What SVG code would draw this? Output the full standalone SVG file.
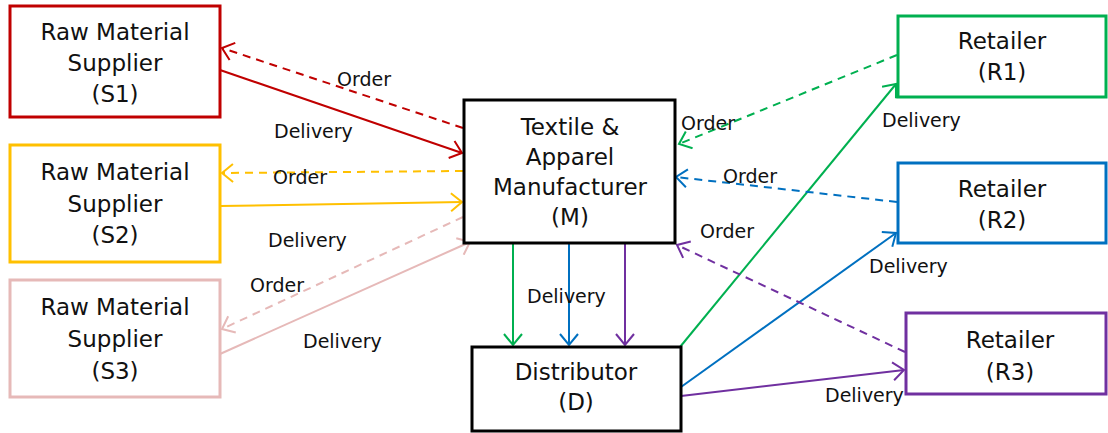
<svg xmlns="http://www.w3.org/2000/svg" width="1108" height="433" viewBox="0 0 1108 433">
<style>
.box{fill:#fff;stroke-width:3}
.t{font-family:"DejaVu Sans",Verdana,sans-serif;font-size:23px;fill:#111;text-anchor:middle}
.l{font-family:"DejaVu Sans",Verdana,sans-serif;font-size:19px;fill:#111}
.c{fill:none;stroke-width:2}
.d{stroke-dasharray:8,6}
</style>
<defs>
<marker id="aR" markerWidth="14" markerHeight="20" refX="12" refY="10" orient="auto" markerUnits="userSpaceOnUse"><path d="M1,1 L12,10 L1,19" fill="none" stroke="#C00000" stroke-width="2"/></marker>
<marker id="aY" markerWidth="14" markerHeight="20" refX="12" refY="10" orient="auto" markerUnits="userSpaceOnUse"><path d="M1,1 L12,10 L1,19" fill="none" stroke="#FFC000" stroke-width="2"/></marker>
<marker id="aP" markerWidth="14" markerHeight="20" refX="12" refY="10" orient="auto" markerUnits="userSpaceOnUse"><path d="M1,1 L12,10 L1,19" fill="none" stroke="#E6B9B8" stroke-width="2"/></marker>
<marker id="aG" markerWidth="14" markerHeight="20" refX="12" refY="10" orient="auto" markerUnits="userSpaceOnUse"><path d="M1,1 L12,10 L1,19" fill="none" stroke="#00B050" stroke-width="2"/></marker>
<marker id="aB" markerWidth="14" markerHeight="20" refX="12" refY="10" orient="auto" markerUnits="userSpaceOnUse"><path d="M1,1 L12,10 L1,19" fill="none" stroke="#0070C0" stroke-width="2"/></marker>
<marker id="aV" markerWidth="14" markerHeight="20" refX="12" refY="10" orient="auto" markerUnits="userSpaceOnUse"><path d="M1,1 L12,10 L1,19" fill="none" stroke="#7030A0" stroke-width="2"/></marker>
</defs>
<rect width="1108" height="433" fill="#fff"/>

<g id="connectors">
<line class="c d" x1="463" y1="128" x2="222" y2="48" stroke="#C00000" marker-end="url(#aR)"/>
<line class="c" x1="220" y1="70" x2="462" y2="153" stroke="#C00000" marker-end="url(#aR)"/>
<line class="c d" x1="463" y1="171" x2="222" y2="173" stroke="#FFC000" marker-end="url(#aY)"/>
<line class="c" x1="220" y1="206" x2="462" y2="202" stroke="#FFC000" marker-end="url(#aY)"/>
<line class="c d" x1="463" y1="217" x2="222" y2="329" stroke="#E6B9B8" marker-end="url(#aP)"/>
<line class="c" x1="220" y1="354" x2="470" y2="242" stroke="#E6B9B8" marker-end="url(#aP)"/>
<line class="c d" x1="897" y1="55" x2="679" y2="144" stroke="#00B050" marker-end="url(#aG)"/>
<line class="c" x1="680" y1="347" x2="896" y2="84" stroke="#00B050" marker-end="url(#aG)"/>
<line class="c d" x1="897" y1="202" x2="676" y2="177" stroke="#0070C0" marker-end="url(#aB)"/>
<line class="c" x1="681" y1="387" x2="896" y2="233" stroke="#0070C0" marker-end="url(#aB)"/>
<line class="c d" x1="905" y1="352" x2="677" y2="245" stroke="#7030A0" marker-end="url(#aV)"/>
<line class="c" x1="681" y1="396" x2="904" y2="370" stroke="#7030A0" marker-end="url(#aV)"/>
<line class="c" x1="513" y1="243" x2="513" y2="345" stroke="#00B050" marker-end="url(#aG)"/>
<line class="c" x1="569" y1="243" x2="569" y2="345" stroke="#0070C0" marker-end="url(#aB)"/>
<line class="c" x1="625" y1="243" x2="625" y2="345" stroke="#7030A0" marker-end="url(#aV)"/>
<text class="l" x="337" y="86">Order</text>
<text class="l" x="274" y="138">Delivery</text>
<text class="l" x="273" y="184">Order</text>
<text class="l" x="268" y="247">Delivery</text>
<text class="l" x="250" y="292">Order</text>
<text class="l" x="303" y="348">Delivery</text>
<text class="l" x="681" y="130">Order</text>
<text class="l" x="882" y="127">Delivery</text>
<text class="l" x="723" y="183">Order</text>
<text class="l" x="700" y="238">Order</text>
<text class="l" x="869" y="273">Delivery</text>
<text class="l" x="527" y="303">Delivery</text>
<text class="l" x="825" y="402">Delivery</text>
</g>

<g id="S1"><rect class="box" x="10" y="6" width="210" height="111" stroke="#C00000"/>
<text class="t" x="115" y="40">Raw Material</text><text class="t" x="115" y="71">Supplier</text><text class="t" x="115" y="102">(S1)</text></g>
<g id="S2"><rect class="box" x="10" y="145" width="210" height="117" stroke="#FFC000"/>
<text class="t" x="115" y="180">Raw Material</text><text class="t" x="115" y="212">Supplier</text><text class="t" x="115" y="243">(S2)</text></g>
<g id="S3"><rect class="box" x="10" y="280" width="210" height="117" stroke="#E6B9B8"/>
<text class="t" x="115" y="315">Raw Material</text><text class="t" x="115" y="347">Supplier</text><text class="t" x="115" y="379">(S3)</text></g>
<g id="M"><rect class="box" x="464" y="100" width="211" height="143" stroke="#000"/>
<text class="t" x="570" y="135">Textile &amp;</text><text class="t" x="570" y="165">Apparel</text><text class="t" x="570" y="195">Manufacturer</text><text class="t" x="570" y="225">(M)</text></g>
<g id="D"><rect class="box" x="472" y="347" width="209" height="84" stroke="#000"/>
<text class="t" x="576" y="380">Distributor</text><text class="t" x="576" y="410">(D)</text></g>
<g id="R1"><rect class="box" x="898" y="16" width="208" height="81" stroke="#00B050"/>
<text class="t" x="1002" y="49">Retailer</text><text class="t" x="1002" y="80">(R1)</text></g>
<g id="R2"><rect class="box" x="898" y="163" width="208" height="80" stroke="#0070C0"/>
<text class="t" x="1002" y="197">Retailer</text><text class="t" x="1002" y="228">(R2)</text></g>
<g id="R3"><rect class="box" x="906" y="313" width="200" height="81" stroke="#7030A0"/>
<text class="t" x="1010" y="348">Retailer</text><text class="t" x="1010" y="380">(R3)</text></g>
</svg>
